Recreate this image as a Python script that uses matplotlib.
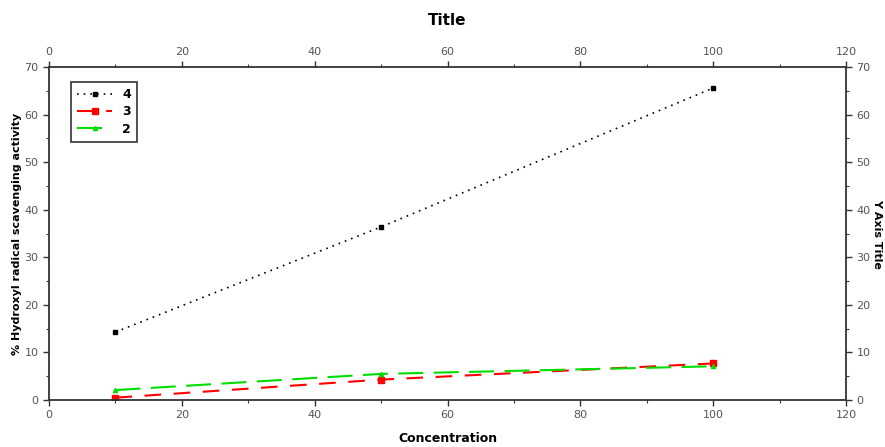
import numpy as np
import matplotlib
matplotlib.use("Agg")
import matplotlib.pyplot as plt

# concentration values and activity for each sample
conc = [10, 50, 100]
s4 = [14.3, 36.4, 65.6]
s3 = [0.5, 4.3, 7.7]
s2 = [2.1, 5.5, 7.1]

plt.rcParams['font.family'] = ['DejaVu Sans']

fig = plt.figure(figsize=(8.85, 4.47), dpi=100)
ax = fig.add_axes([0.0554, 0.105, 0.9006, 0.745])

ax.plot(conc, s4, color='black', linestyle=(0, (1, 3)), linewidth=1.2,
        marker='s', markersize=3, label='4')
ax.plot(conc, s3, color='red', linestyle=(0, (8, 6)), linewidth=1.5,
        marker='s', markersize=4, label='3')
ax.plot(conc, s2, color='#00dd00', linestyle=(0, (12, 5)), linewidth=1.5,
        marker='^', markersize=3, label='2')

ax.set_xlim(0, 120)
ax.set_ylim(0, 70)
ax.set_xticks(np.arange(0, 121, 20))
ax.set_xticks(np.arange(0, 121, 10), minor=True)
ax.set_yticks(np.arange(0, 71, 10))
ax.set_yticks(np.arange(0, 71, 5), minor=True)

ax.tick_params(which='both', direction='out', colors='#333333', labelcolor='#555555',
               labelsize=8, top=True, right=True, labeltop=True, labelright=True)
ax.tick_params(which='major', length=4, width=1)
ax.tick_params(which='minor', length=2, width=0.8)
for sp in ax.spines.values():
    sp.set_linewidth(1.3)
    sp.set_color('#333333')

ax.set_xlabel('Concentration', fontsize=9, fontweight='bold', labelpad=8)
ax.set_ylabel('% Hydroxyl radical scavenging activity', fontsize=8, fontweight='bold', labelpad=2)
ax.text(1.033, 0.5, 'Y Axis Title', transform=ax.transAxes, rotation=270,
        fontsize=8, fontweight='bold', va='center', ha='left')
ax.set_title('Title', fontsize=11, fontweight='bold', pad=30)

leg = ax.legend(loc='upper left', bbox_to_anchor=(0.02, 0.975), fontsize=9,
                frameon=True, fancybox=False, edgecolor='black',
                handlelength=2.8, borderpad=0.5, labelspacing=0.35,
                prop={'weight': 'bold', 'size': 9})
leg.get_frame().set_linewidth(1.2)

fig.savefig('out.png', dpi=100)
